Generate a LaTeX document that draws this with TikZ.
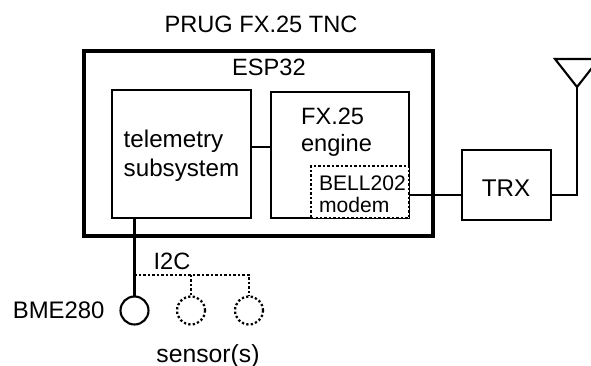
\documentclass[tikz,border=0pt]{standalone}
\usepackage{fontspec}
\setmainfont{Liberation Sans}
\usepackage{tikz}
\tikzset{>=latex}
\tikzset{
  block/.style={draw, line width=1.5pt, outer sep=0pt, inner sep=0pt},
  dotline/.style={line width=1.6pt, dash pattern=on 1.6pt off 1.6pt},
  sensor/.style={draw, circle, line width=1.5pt, outer sep=0pt, inner sep=0pt, minimum size=0.7cm},
  lbl/.style={inner sep=0pt, align=left, font=\fontsize{16.8}{19.2}\selectfont},
  biglbl/.style={lbl, font=\fontsize{17.2}{20.8}\selectfont},
}

\begin{document}
\begin{tikzpicture}
    \clip (0,0) rectangle (14.775,9.15);
    \node [lbl] (title) at (6.525,8.55){PRUG FX.25 TNC};
    \node [block, line width=2.2pt, minimum width=8.725cm, minimum height=4.625cm] (esp) at (6.4625,5.5625){};
    \node [lbl] (espname) at (6.725,7.475){ESP32};
    \node [block, minimum width=3.475cm, minimum height=3.2cm] (tele) at (4.5375,5.3){};
    \node [biglbl] (telename) at (4.5375,5.25){telemetry\\subsystem};
    \node [block, minimum width=3.45cm, minimum height=3.15cm] (fx) at (8.5,5.275){};
    \node [lbl, anchor=west] (fxname) at (7.52,5.85){FX.25\\engine};
    \node [block, dotline, fill=white, minimum width=2.45cm, minimum height=1.3cm] (modem) at (9,4.35){};
    \node [lbl, anchor=west, font=\fontsize{15}{15.6}\selectfont] (modemname) at (7.97,4.3){BELL202\\modem};
    \node [block, minimum width=2.225cm, minimum height=1.75cm] (trx) at (12.6625,4.525){};
    \node [biglbl] (trxname) at (12.65,4.45){TRX};
    \node [sensor] (bme) at (3.3625,1.3875){};
    \node [sensor, dotline] (extraa) at (4.775,1.3875){};
    \node [sensor, dotline] (extrab) at (6.225,1.3875){};
    \node [lbl, anchor=east, font=\fontsize{17}{19.2}\selectfont] (bmename) at (2.62,1.4){BME280};
    \node [lbl] (i2cname) at (4.3,2.625){I2C};
    \node [lbl, font=\fontsize{17.6}{19.2}\selectfont] (sensors) at (5.2,0.25){sensor(s)};

    \coordinate (rf) at (0,4.275);
    \coordinate (uart) at (0,5.475);
    \coordinate (i2c) at (3.3625,2.275);
    \coordinate (ant) at (14.425,6.975);

    \draw [line width=1.5pt] (tele.east |- uart) -- (fx.west |- uart);
    \draw [line width=1.5pt] (modem.east |- rf) -- (trx.west |- rf);
    \draw [line width=1.5pt] (trx.east |- rf) -| (ant);
    \draw [line width=1.5pt, line join=miter] (ant) -- (13.875,7.675) -- (14.975,7.675) -- cycle;
    \draw [line width=1.5pt] (bme |- tele.south) -- (bme);
    \draw [dotline] (i2c) -- (i2c -| extrab) -- (extrab);
    \draw [dotline] (i2c -| extraa) -- (extraa);
\end{tikzpicture}
\end{document}
